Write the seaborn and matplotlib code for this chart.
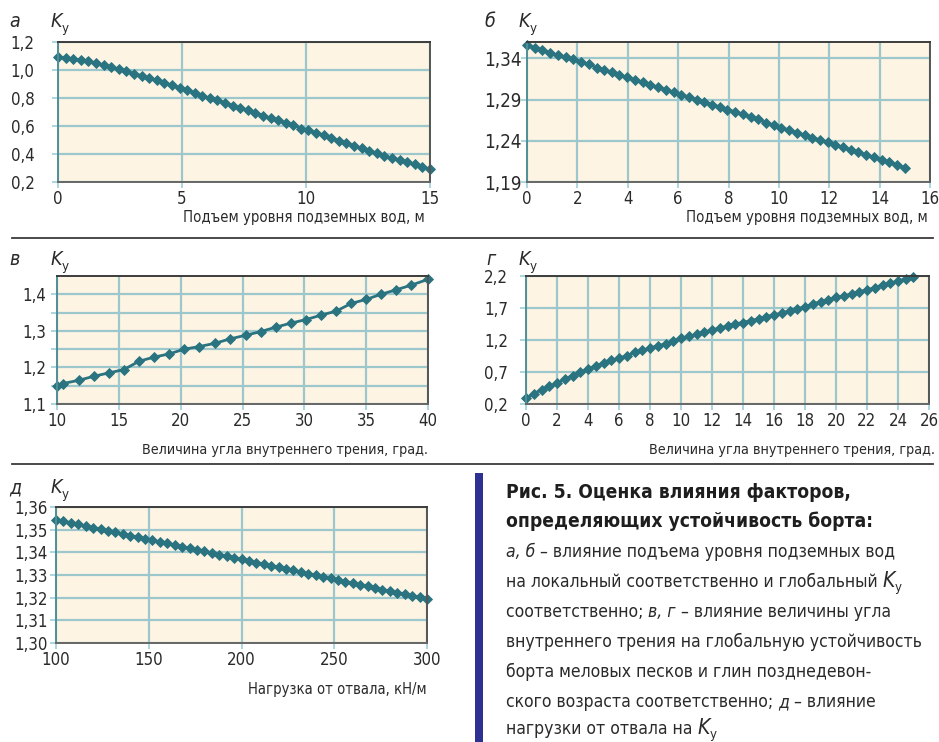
import matplotlib
matplotlib.use("Agg")
import matplotlib.pyplot as plt
import seaborn as sns
import numpy as np

plt.rcParams['font.family'] = ['DejaVu Sans']
plt.rcParams['font.stretch'] = 'condensed'

# ---------------- data ----------------
# (a) local K vs groundwater rise, m
a_x = [0, 0.31, 0.61, 0.92, 1.22, 1.53, 1.84, 2.14, 2.45, 2.76, 3.06, 3.37, 3.67, 3.98, 4.29,
       4.59, 4.90, 5.20, 5.51, 5.82, 6.12, 6.43, 6.73, 7.04, 7.35, 7.65, 7.96, 8.27, 8.57, 8.88,
       9.18, 9.49, 9.80, 10.10, 10.41, 10.71, 11.02, 11.33, 11.63, 11.94, 12.24, 12.55, 12.86,
       13.16, 13.47, 13.78, 14.08, 14.39, 14.69, 15.0]
a_y = [1.093, 1.088, 1.079, 1.072, 1.062, 1.048, 1.036, 1.019, 1.008, 0.993, 0.974, 0.960, 0.941,
       0.927, 0.910, 0.891, 0.872, 0.856, 0.837, 0.815, 0.799, 0.784, 0.765, 0.746, 0.727, 0.711,
       0.694, 0.675, 0.656, 0.642, 0.623, 0.604, 0.582, 0.571, 0.552, 0.533, 0.514, 0.495, 0.480,
       0.459, 0.440, 0.421, 0.404, 0.385, 0.369, 0.359, 0.343, 0.326, 0.307, 0.290]

# (б) global K vs groundwater rise, m
b_x = list(a_x)
b_y = [1.356, 1.353, 1.350, 1.347, 1.344, 1.342, 1.339, 1.336, 1.333, 1.329, 1.326, 1.323, 1.320,
       1.317, 1.314, 1.311, 1.308, 1.305, 1.302, 1.299, 1.296, 1.293, 1.290, 1.287, 1.284, 1.281,
       1.278, 1.275, 1.272, 1.269, 1.266, 1.262, 1.259, 1.256, 1.253, 1.250, 1.247, 1.244, 1.241,
       1.238, 1.235, 1.232, 1.229, 1.226, 1.223, 1.220, 1.217, 1.214, 1.211, 1.207]

# (в) K vs internal friction angle, deg
v_x = [10.0, 10.49, 11.78, 13.0, 14.19, 15.4, 16.64, 17.83, 19.07, 20.29, 21.5, 22.77, 23.99,
       25.26, 26.47, 27.69, 28.9, 30.15, 31.36, 32.58, 33.79, 35.0, 36.2, 37.4, 38.65, 40.0]
v_y = [1.150, 1.156, 1.165, 1.176, 1.185, 1.194, 1.217, 1.228, 1.237, 1.250, 1.257, 1.266, 1.278,
       1.288, 1.298, 1.310, 1.321, 1.331, 1.343, 1.354, 1.375, 1.386, 1.400, 1.412, 1.425, 1.441]

# (г) K vs internal friction angle, deg
g_x = [0, 0.5, 1, 1.5, 2, 2.5, 3, 3.5, 4, 4.5, 5, 5.5, 6, 6.5, 7, 7.5, 8, 8.5, 9, 9.5, 10, 10.5,
       11, 11.5, 12, 12.5, 13, 13.5, 14, 14.5, 15, 15.5, 16, 16.5, 17, 17.5, 18, 18.5, 19, 19.5,
       20, 20.5, 21, 21.5, 22, 22.5, 23, 23.5, 24, 24.5, 25]
g_y = [0.288, 0.361, 0.423, 0.475, 0.527, 0.590, 0.642, 0.694, 0.745, 0.797, 0.839, 0.881, 0.917,
       0.953, 1.005, 1.036, 1.073, 1.109, 1.140, 1.177, 1.229, 1.255, 1.286, 1.322, 1.358, 1.384,
       1.421, 1.452, 1.473, 1.504, 1.530, 1.566, 1.592, 1.618, 1.660, 1.686, 1.722, 1.759, 1.800,
       1.826, 1.868, 1.888, 1.920, 1.956, 1.982, 2.018, 2.060, 2.086, 2.122, 2.153, 2.190]

# (д) K vs dump load, kN/m
d_x = [100, 104, 108, 112, 116, 120, 124, 128, 132, 136, 140, 144, 148, 152, 156, 160, 164, 168,
       172, 176, 180, 184, 188, 192, 196, 200, 204, 208, 212, 216, 220, 224, 228, 232, 236, 240,
       244, 248, 252, 256, 260, 264, 268, 272, 276, 280, 284, 288, 292, 296, 300]
d_y = [1.3544, 1.3537, 1.3530, 1.3523, 1.3516, 1.3509, 1.3502, 1.3495, 1.3488, 1.3481, 1.3474,
       1.3467, 1.3460, 1.3453, 1.3446, 1.3439, 1.3432, 1.3425, 1.3418, 1.3411, 1.3404, 1.3397,
       1.3390, 1.3383, 1.3376, 1.3369, 1.3362, 1.3355, 1.3348, 1.3341, 1.3334, 1.3327, 1.3320,
       1.3313, 1.3306, 1.3299, 1.3292, 1.3285, 1.3278, 1.3271, 1.3264, 1.3257, 1.3250, 1.3243,
       1.3236, 1.3229, 1.3222, 1.3215, 1.3208, 1.3202, 1.3196]

# ticks
a_xt = [0, 5, 10, 15]
a_yt = [0.2, 0.4, 0.6, 0.8, 1.0, 1.2]
a_ytl = ['0,2', '0,4', '0,6', '0,8', '1,0', '1,2']
b_xt = [0, 2, 4, 6, 8, 10, 12, 14, 16]
b_yt = [1.19, 1.24, 1.29, 1.34]
b_ytl = ['1,19', '1,24', '1,29', '1,34']
v_xt = [10, 15, 20, 25, 30, 35, 40]
v_yt = [1.1, 1.2, 1.3, 1.4]
v_ytl = ['1,1', '1,2', '1,3', '1,4']
v_ymin = [1.15, 1.25, 1.35]
g_xt = [0, 2, 4, 6, 8, 10, 12, 14, 16, 18, 20, 22, 24, 26]
g_yt = [0.2, 0.7, 1.2, 1.7, 2.2]
g_ytl = ['0,2', '0,7', '1,2', '1,7', '2,2']
d_xt = [100, 150, 200, 250, 300]
d_yt = [1.30, 1.31, 1.32, 1.33, 1.34, 1.35, 1.36]
d_ytl = ['1,30', '1,31', '1,32', '1,33', '1,34', '1,35', '1,36']

x_label_water = 'Подъем уровня подземных вод, м'
x_label_angle = 'Величина угла внутреннего трения, град.'
x_label_load = 'Нагрузка от отвала, кН/м'

# ---------------- styling ----------------
W, H = 939, 742
fig = plt.figure(figsize=(W / 100, H / 100), dpi=100)
fig.patch.set_facecolor('white')
renderer = fig.canvas.get_renderer()

BG = '#fdf4e3'
GRID = '#9cc8cd'
LINE = '#2a7380'
TXT = '#2a2a2a'


def ftext(x, y, s, **kw):
    return fig.text(x / W, 1 - y / H, s, **kw)


def fit_size(s, target_w, base=14, **kw):
    t = fig.text(0, 0, s, fontsize=base, **kw)
    w = t.get_window_extent(renderer).width
    t.remove()
    return base * target_w / w


TICK_FS = fit_size('1,36', 33.5)
LAB_W_FS = fit_size(x_label_water, 242)
LAB_A_FS = fit_size(x_label_angle, 287)
LAB_L_FS = fit_size(x_label_load, 179)


def add_ax(l, t, r, b):
    return fig.add_axes([l / W, 1 - b / H, (r - l) / W, (b - t) / H])


def style(ax, xlim, ylim, xt, yt, ytl, ypad=2, yfs=None, minor_y=None):
    ax.set_facecolor(BG)
    ax.set_xlim(*xlim)
    ax.set_ylim(*ylim)
    ax.set_xticks(xt)
    ax.set_xticklabels([str(v) for v in xt])
    ax.set_yticks(yt)
    ax.set_yticklabels(ytl)
    if minor_y is not None:
        ax.set_yticks(minor_y, minor=True)
        ax.tick_params(axis='y', which='minor', length=4, color='#9ccfd8', width=1.2)
        ax.grid(True, which='minor', axis='y', color=GRID, lw=1.6)
    ax.grid(True, which='major', color=GRID, lw=1.6)
    ax.set_axisbelow(True)
    ax.tick_params(axis='both', which='major', labelsize=TICK_FS, labelcolor=TXT,
                   length=4, width=1.2, color='#9ccfd8', pad=2)
    ax.tick_params(axis='y', which='major', pad=ypad, labelsize=yfs or TICK_FS)
    ax.spines['left'].set_color('#4f8f98')
    ax.spines['bottom'].set_color('#666666')
    ax.spines['top'].set_color('#3c3c3c')
    ax.spines['right'].set_color('#555555')
    for s in ax.spines.values():
        s.set_linewidth(1.4)
    ax.set_xlabel('')
    ax.set_ylabel('')


def draw(ax, x, y):
    sns.lineplot(x=x, y=y, ax=ax, color=LINE, marker='D', markersize=5.0,
                 markeredgewidth=0.6, markeredgecolor=LINE, linewidth=2.0, clip_on=False)


def panel_head(xl, xk, yb, letter):
    ftext(xl, yb, letter, fontsize=14, fontstyle='italic', color=TXT, va='baseline')
    ftext(xk, yb, 'K', fontsize=14, fontstyle='italic', color=TXT, va='baseline')
    ftext(xk + 11, yb + 5, 'у', fontsize=9.5, color=TXT, va='baseline')


# panel а
ax = add_ax(58, 42, 430, 182)
draw(ax, a_x, a_y)
style(ax, (0, 15), (0.2, 1.2), a_xt, a_yt, a_ytl, ypad=13)
panel_head(9, 51, 27, 'а')
ftext(425, 222, x_label_water, fontsize=LAB_W_FS, color=TXT, ha='right', va='baseline')

# panel б
ax = add_ax(527, 42, 930, 182)
draw(ax, b_x, b_y)
style(ax, (0, 16), (1.19, 1.36), b_xt, b_yt, b_ytl, ypad=0, yfs=TICK_FS * 1.12)
panel_head(484, 519, 27, 'б')
ftext(928, 222, x_label_water, fontsize=LAB_W_FS, color=TXT, ha='right', va='baseline')

# panel в
ax = add_ax(57, 276, 428, 404)
draw(ax, v_x, v_y)
style(ax, (10, 40), (1.1, 1.45), v_xt, v_yt, v_ytl, ypad=4, minor_y=v_ymin)
panel_head(9, 51, 265, 'в')
ftext(428, 454, x_label_angle, fontsize=LAB_A_FS, color=TXT, ha='right', va='baseline')

# panel г
ax = add_ax(526, 276, 929, 404)
draw(ax, g_x, g_y)
style(ax, (0, 26), (0.2, 2.2), g_xt, g_yt, g_ytl, ypad=9)
panel_head(486, 519, 265, 'г')
ftext(935, 454, x_label_angle, fontsize=LAB_A_FS, color=TXT, ha='right', va='baseline')

# panel д
ax = add_ax(56, 507, 427, 643)
draw(ax, d_x, d_y)
style(ax, (100, 300), (1.30, 1.36), d_xt, d_yt, d_ytl, ypad=2)
panel_head(9, 51, 493, 'д')
ftext(427, 694, x_label_load, fontsize=LAB_L_FS, color=TXT, ha='right', va='baseline')

# separators
for yy in (238, 464):
    fig.add_artist(plt.Line2D([12 / W, 933 / W], [1 - yy / H, 1 - yy / H],
                              color='#3a3a3a', lw=1.3, transform=fig.transFigure))
# blue bar
fig.add_artist(plt.Rectangle((475 / W, 0), 8 / W, 1 - 473 / H, color='#2f3192',
                             transform=fig.transFigure, lw=0))

# caption
CAP_FS = fit_size('внутреннего трения на глобальную устойчивость', 419)
CAPB_FS = fit_size('Рис. 5. Оценка влияния факторов,', 347, fontweight='bold')


def runs(x, y, items):
    cx = x
    for txt, st in items:
        kw = dict(fontsize=CAP_FS, color=TXT, va='baseline', ha='left')
        yy = y
        if st == 'b':
            kw['fontweight'] = 'bold'
            kw['fontsize'] = CAPB_FS
            kw['color'] = '#1e1e1e'
        elif st == 'i':
            kw['fontstyle'] = 'italic'
        elif st == 'K':
            kw['fontstyle'] = 'italic'
            kw['fontsize'] = CAP_FS * 1.2
        elif st == 'sub':
            kw['fontsize'] = CAP_FS * 0.75
            yy = y + 4
        t = ftext(cx, yy, txt, **kw)
        cx += t.get_window_extent(renderer).width


cap = [
    (498, [('Рис. 5. Оценка влияния факторов,', 'b')]),
    (527, [('определяющих устойчивость борта:', 'b')]),
    (557, [('а, б', 'i'), (' – влияние подъема уровня подземных вод', 'n')]),
    (587, [('на локальный соответственно и глобальный ', 'n'), ('K', 'K'), ('у', 'sub')]),
    (617, [('соответственно; ', 'n'), ('в, г', 'i'), (' – влияние величины угла', 'n')]),
    (647, [('внутреннего трения на глобальную устойчивость', 'n')]),
    (677, [('борта меловых песков и глин позднедевон-', 'n')]),
    (707, [('ского возраста соответственно; ', 'n'), ('д', 'i'), (' – влияние', 'n')]),
    (734, [('нагрузки от отвала на ', 'n'), ('K', 'K'), ('у', 'sub')]),
]
for yb, items in cap:
    runs(506, yb, items)

fig.savefig('out.png', dpi=100, facecolor='white')
